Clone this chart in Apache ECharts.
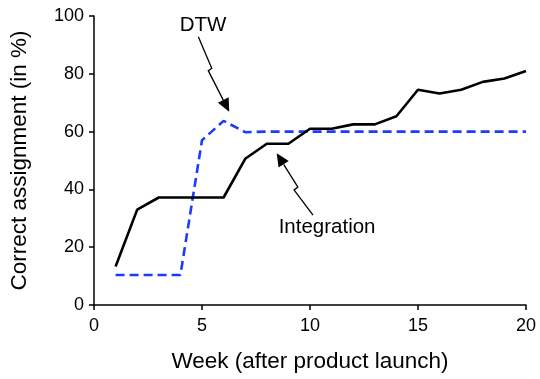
<!DOCTYPE html>
<html><head><meta charset="utf-8">
<script src="https://cdn.jsdelivr.net/npm/echarts@6/dist/echarts.min.js"></script>
<style>html,body{margin:0;padding:0;background:#fff}#c{width:540px;height:379px}</style>
</head><body><div id="c"></div>
<script>
const weeks = [1,2,3,4,5,6,7,8,9,10,11,12,13,14,15,16,17,18,19,20];
const integration = [13.3,33.0,37.2,37.2,37.2,37.2,50.6,55.8,55.8,61.0,61.0,62.5,62.5,65.3,74.5,73.2,74.5,77.2,78.4,81.0];
const dtw = [10.4,10.4,10.4,10.4,57.0,63.7,59.8,60,60,60,60,60,60,60,60,60,60,60,60,60];
const xTicks = [0,5,10,15,20];
const yTicks = [0,20,40,60,80,100];
// annotation arrows in data coordinates (tail, zig, zig, tip)
const dtwArrow = [[4.83,92.8],[5.45,81.9],[5.29,81.1],[6.26,66.9]];
const intArrow = [[10.14,31.1],[9.26,39.8],[9.44,40.8],[8.46,52.5]];
const dtwLabel = [5.05,96.9];
const intLabel = [10.79,27.0];

const FONT = 'Liberation Sans, Arial, sans-serif';
const chart = echarts.init(document.getElementById('c'), null, {renderer:'canvas'});
const option = {
  animation:false,
  grid:{left:94,right:14,top:16,bottom:74,containLabel:false,outerBoundsMode:'none'},
  xAxis:{type:'value',min:0,max:20,interval:5,
    name:'Week (after product launch)',nameLocation:'middle',nameGap:45,
    nameTextStyle:{fontFamily:FONT,fontSize:22.5,color:'#000'},
    axisLine:{lineStyle:{color:'#000',width:1.5}},
    axisTick:{show:true,length:5,lineStyle:{color:'#000',width:1.5}},
    axisLabel:{fontFamily:FONT,fontSize:18,color:'#000',margin:12},
    splitLine:{show:false}},
  yAxis:{type:'value',min:0,max:100,interval:20,
    name:'Correct assignment (in %)',nameLocation:'middle',nameGap:63,
    nameTextStyle:{fontFamily:FONT,fontSize:22.5,color:'#000'},
    axisLine:{show:true,lineStyle:{color:'#000',width:1.5}},
    axisTick:{show:true,length:5,lineStyle:{color:'#000',width:1.5}},
    axisLabel:{fontFamily:FONT,fontSize:18,color:'#000',margin:10},
    splitLine:{show:false}},
  series:[
    {type:'line',name:'Integration',data:weeks.map((w,i)=>[w,integration[i]]),
     symbol:'none',lineStyle:{color:'#000',width:2.6},z:3},
    {type:'line',name:'DTW',data:weeks.map((w,i)=>[w,dtw[i]]),
     symbol:'none',lineStyle:{color:'#1a3cff',width:2.6,type:[9,5]},z:2}
  ]
};
chart.setOption(option);

function arrowGraphics(pts){
  const px = pts.map(p=>chart.convertToPixel({gridIndex:0},p));
  const tip = px[px.length-1], prev = px[px.length-2];
  const dx = tip[0]-prev[0], dy = tip[1]-prev[1];
  const L = Math.hypot(dx,dy), ux=dx/L, uy=dy/L;
  const hl = 13, hw = 6;
  const base = [tip[0]-ux*hl, tip[1]-uy*hl];
  const linePts = px.slice(0,-1).concat([base]);
  return [
    {type:'polyline',shape:{points:linePts},style:{stroke:'#000',lineWidth:1.3,fill:null},z:10},
    {type:'polygon',shape:{points:[tip,[base[0]-uy*hw,base[1]+ux*hw],[base[0]+uy*hw,base[1]-ux*hw]]},style:{fill:'#000'},z:10}
  ];
}
function label(text,pos){
  const p = chart.convertToPixel({gridIndex:0},pos);
  return {type:'text',x:p[0],y:p[1],style:{text:text,fontFamily:FONT,fontSize:20.5,fill:'#000',align:'center',verticalAlign:'middle'},z:10};
}
chart.setOption({graphic:[...arrowGraphics(dtwArrow),...arrowGraphics(intArrow),label('DTW',dtwLabel),label('Integration',intLabel)]});
</script></body></html>
